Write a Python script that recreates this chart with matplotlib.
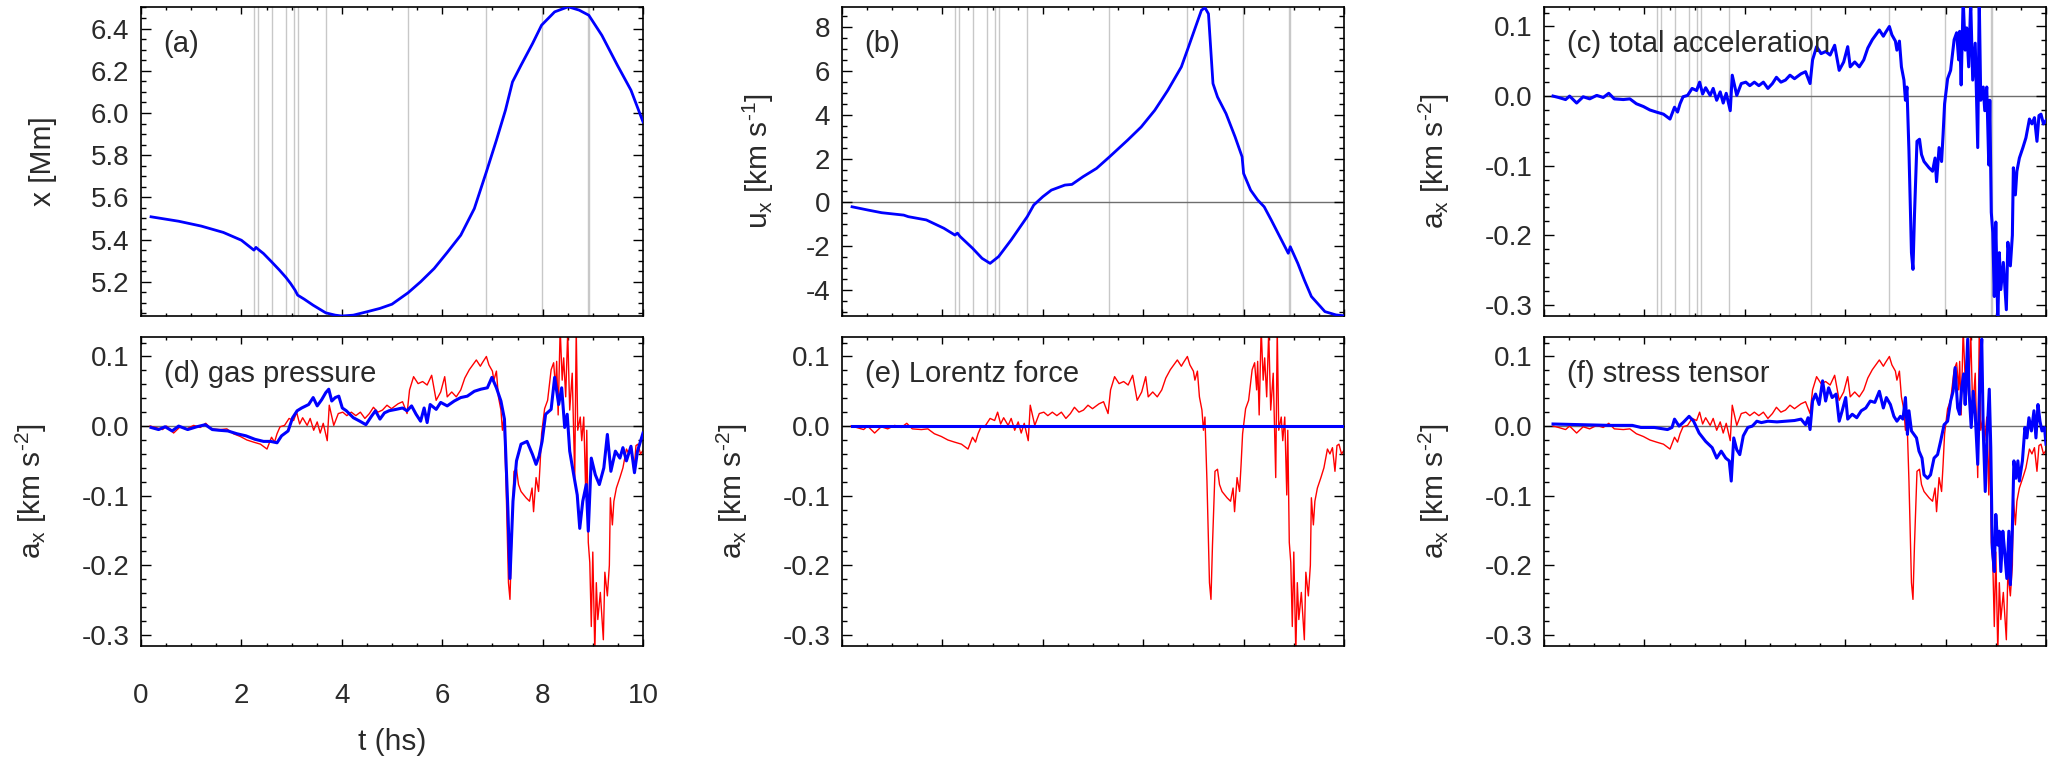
import matplotlib
matplotlib.use('Agg')
import matplotlib.pyplot as plt
from matplotlib.ticker import MultipleLocator, FormatStrFormatter

plt.rcParams['font.family'] = ['Liberation Sans', 'DejaVu Sans']
plt.rcParams['mathtext.default'] = 'regular'
plt.rcParams['axes.unicode_minus'] = False

# times of the grey marker lines (hs)
event_times = [2.25, 2.34, 2.60, 2.89, 3.04, 3.12, 3.69, 5.32, 6.88, 7.98, 8.90, 8.93]

# (a) position x [Mm]
pos_t = [0.2, 0.75, 1.2, 1.64, 2.0, 2.25, 2.29, 2.34, 2.44, 2.6, 2.76, 2.89, 2.98,
         3.07, 3.12, 3.25, 3.43, 3.68, 3.87, 4.0, 4.23, 4.5, 4.76, 5.0, 5.32, 5.57,
         5.84, 6.1, 6.37, 6.64, 6.88, 7.08, 7.26, 7.4, 7.57, 7.8, 7.98, 8.24, 8.51,
         8.73, 8.92, 9.18, 9.49, 9.76, 10.0]
pos_x = [5.508, 5.487, 5.464, 5.434, 5.397, 5.350, 5.363, 5.353, 5.334, 5.295, 5.255,
         5.220, 5.192, 5.160, 5.137, 5.118, 5.089, 5.053, 5.042, 5.038, 5.042, 5.058,
         5.074, 5.094, 5.148, 5.200, 5.263, 5.339, 5.421, 5.547, 5.721, 5.871, 6.013,
         6.147, 6.226, 6.329, 6.416, 6.479, 6.503, 6.487, 6.463, 6.368, 6.226, 6.108,
         5.958]

# (b) velocity u_x [km/s]
vel_t = [0.2, 0.52, 0.79, 1.23, 1.32, 1.68, 2.03, 2.25, 2.30, 2.35, 2.60, 2.79, 2.95,
         3.12, 3.37, 3.69, 3.82, 4.0, 4.17, 4.44, 4.58, 4.80, 5.07, 5.33, 5.69, 5.96,
         6.23, 6.49, 6.76, 6.89, 7.03, 7.16, 7.23, 7.30, 7.39, 7.48, 7.65, 7.83, 7.97,
         8.0, 8.14, 8.28, 8.41, 8.55, 8.72, 8.89, 8.93, 9.08, 9.21, 9.35, 9.62, 9.84, 10.0]
vel_u = [-0.20, -0.35, -0.47, -0.58, -0.65, -0.80, -1.18, -1.49, -1.40, -1.55, -2.09,
         -2.55, -2.78, -2.47, -1.71, -0.65, -0.12, 0.26, 0.56, 0.79, 0.82, 1.17, 1.55,
         2.08, 2.84, 3.44, 4.20, 5.11, 6.18, 7.01, 7.92, 8.76, 8.88, 8.60, 5.42, 4.81,
         4.05, 2.99, 2.08, 1.32, 0.56, 0.11, -0.20, -0.80, -1.56, -2.32, -2.02, -2.78,
         -3.54, -4.29, -4.98, -5.13, -5.17]

# total acceleration a_x [km s^-2]
tot_t = [0.18, 0.29, 0.43, 0.51, 0.65, 0.78, 0.91, 1.05, 1.18, 1.29, 1.40, 1.58, 1.71,
         1.84, 1.98, 2.11, 2.24, 2.38, 2.51, 2.60, 2.66, 2.71, 2.77, 2.86, 2.95, 3.04,
         3.10, 3.16, 3.22, 3.31, 3.37, 3.44, 3.51, 3.57, 3.63, 3.71, 3.75, 3.84, 3.93,
         4.02, 4.10, 4.19, 4.28, 4.37, 4.46, 4.55, 4.63, 4.72, 4.81, 4.90, 4.99, 5.12,
         5.21, 5.30, 5.35, 5.43, 5.52, 5.61, 5.70, 5.79, 5.88, 5.97, 6.05, 6.10, 6.19,
         6.28, 6.37, 6.45, 6.54, 6.68, 6.76, 6.80, 6.88, 6.93, 7.00, 7.03, 7.08, 7.12,
         7.17, 7.20, 7.23, 7.27, 7.32, 7.35, 7.38, 7.43, 7.48, 7.52, 7.57, 7.67, 7.74,
         7.79, 7.82, 7.87, 7.92, 7.95, 7.98, 8.04, 8.10, 8.17, 8.22, 8.26, 8.28, 8.31,
         8.35, 8.39, 8.42, 8.46, 8.50, 8.54, 8.59, 8.64, 8.67, 8.70, 8.75, 8.78, 8.82,
         8.86, 8.88, 8.91, 8.94, 8.97, 9.00, 9.04, 9.07, 9.10, 9.15, 9.21, 9.24, 9.29,
         9.33, 9.35, 9.39, 9.42, 9.47, 9.54, 9.60, 9.67, 9.72, 9.77, 9.82, 9.86, 9.90,
         9.95, 10.0]
tot_a = [0.000, -0.002, -0.005, 0.000, -0.010, -0.001, -0.004, 0.001, -0.002, 0.004,
         -0.004, -0.005, -0.004, -0.011, -0.015, -0.020, -0.023, -0.026, -0.033, -0.016,
         -0.023, -0.011, -0.001, 0.001, 0.011, 0.008, 0.020, 0.003, 0.012, 0.001, 0.011,
         -0.006, 0.006, -0.010, 0.004, -0.021, 0.030, 0.001, 0.018, 0.020, 0.015, 0.020,
         0.015, 0.020, 0.011, 0.018, 0.027, 0.020, 0.023, 0.030, 0.025, 0.032, 0.035,
         0.018, 0.052, 0.071, 0.061, 0.064, 0.059, 0.073, 0.037, 0.049, 0.071, 0.042,
         0.049, 0.042, 0.052, 0.069, 0.081, 0.095, 0.086, 0.091, 0.100, 0.088, 0.079,
         0.066, 0.079, 0.042, 0.023, -0.006, 0.013, -0.079, -0.225, -0.249, -0.171,
         -0.065, -0.062, -0.084, -0.094, -0.103, -0.108, -0.089, -0.123, -0.074, -0.094,
         -0.055, -0.011, 0.025, 0.037, 0.081, 0.091, 0.052, 0.093, 0.016, 0.140, 0.066,
         0.098, 0.042, 0.135, 0.023, 0.076, -0.074, 0.140, -0.006, 0.013, -0.021, 0.013,
         -0.099, -0.006, -0.167, -0.196, -0.288, -0.181, -0.325, -0.225, -0.278, -0.239,
         -0.307, -0.210, -0.244, -0.200, -0.103, -0.142, -0.108, -0.089, -0.074, -0.060,
         -0.033, -0.040, -0.031, -0.065, -0.028, -0.026, -0.040, -0.035]

# gas pressure contribution
gas_t = [0.20, 0.35, 0.48, 0.62, 0.75, 0.93, 1.11, 1.28, 1.42, 1.55, 1.73, 1.91, 2.09,
         2.27, 2.44, 2.58, 2.71, 2.80, 2.93, 3.02, 3.11, 3.20, 3.34, 3.43, 3.51, 3.60,
         3.68, 3.74, 3.80, 3.87, 3.94, 4.01, 4.09, 4.23, 4.36, 4.48, 4.59, 4.67, 4.76,
         4.85, 4.94, 5.08, 5.21, 5.30, 5.39, 5.48, 5.57, 5.64, 5.70, 5.76, 5.88, 5.97,
         6.10, 6.24, 6.37, 6.50, 6.64, 6.77, 6.90, 6.99, 7.08, 7.17, 7.24, 7.31, 7.35,
         7.41, 7.48, 7.57, 7.69, 7.80, 7.87, 7.93, 7.99, 8.06, 8.17, 8.24, 8.32, 8.38,
         8.44, 8.49, 8.54, 8.62, 8.69, 8.74, 8.80, 8.87, 8.91, 8.97, 9.05, 9.13, 9.22,
         9.29, 9.36, 9.45, 9.54, 9.60, 9.67, 9.76, 9.83, 9.89, 9.95, 10.0]
gas_a = [-0.002, -0.005, -0.001, -0.007, 0.000, -0.005, -0.001, 0.002, -0.005, -0.006,
         -0.007, -0.011, -0.014, -0.019, -0.022, -0.022, -0.024, -0.014, -0.007, 0.012,
         0.022, 0.026, 0.031, 0.041, 0.029, 0.038, 0.048, 0.053, 0.036, 0.041, 0.043,
         0.026, 0.022, 0.012, 0.007, 0.002, 0.014, 0.022, 0.010, 0.019, 0.022, 0.024,
         0.026, 0.022, 0.029, 0.017, 0.007, 0.026, 0.005, 0.031, 0.024, 0.034, 0.029,
         0.036, 0.041, 0.043, 0.050, 0.053, 0.055, 0.070, 0.055, 0.036, 0.010, -0.123,
         -0.219, -0.108, -0.050, -0.026, -0.022, -0.041, -0.055, -0.043, -0.022, 0.017,
         0.024, 0.070, 0.031, 0.055, -0.002, 0.017, -0.036, -0.070, -0.099, -0.147,
         -0.108, -0.084, -0.151, -0.046, -0.070, -0.084, -0.060, -0.012, -0.065, -0.036,
         -0.046, -0.031, -0.050, -0.029, -0.067, -0.036, -0.022, -0.010]

# Lorentz force contribution
lor_t = [0.2, 10.0]
lor_a = [0.0, 0.0]

# stress tensor contribution
str_t = [0.18, 0.78, 1.31, 1.76, 1.93, 2.20, 2.46, 2.55, 2.60, 2.69, 2.77, 2.89, 2.98,
         3.09, 3.22, 3.35, 3.44, 3.53, 3.62, 3.69, 3.73, 3.78, 3.84, 3.90, 3.97, 4.06,
         4.15, 4.24, 4.33, 4.46, 4.64, 4.81, 4.99, 5.12, 5.21, 5.26, 5.30, 5.35, 5.41,
         5.48, 5.55, 5.61, 5.67, 5.74, 5.82, 5.88, 5.94, 6.01, 6.05, 6.14, 6.23, 6.32,
         6.41, 6.50, 6.59, 6.68, 6.76, 6.82, 6.90, 6.97, 7.03, 7.10, 7.15, 7.20, 7.24,
         7.27, 7.32, 7.37, 7.42, 7.47, 7.53, 7.57, 7.64, 7.70, 7.77, 7.84, 7.90, 7.97,
         8.04, 8.10, 8.15, 8.19, 8.24, 8.28, 8.32, 8.36, 8.39, 8.44, 8.47, 8.51, 8.55,
         8.59, 8.64, 8.68, 8.72, 8.75, 8.79, 8.83, 8.87, 8.90, 8.93, 8.97, 9.00, 9.04,
         9.07, 9.10, 9.14, 9.17, 9.22, 9.26, 9.29, 9.33, 9.36, 9.40, 9.44, 9.47, 9.53,
         9.58, 9.62, 9.66, 9.71, 9.76, 9.80, 9.84, 9.88, 9.92, 9.97, 10.0]
str_a = [0.003, 0.002, 0.001, 0.001, -0.002, -0.002, -0.005, -0.002, 0.010, 0.000,
         0.005, 0.014, 0.007, -0.010, -0.022, -0.031, -0.046, -0.036, -0.046, -0.050,
         -0.079, -0.017, -0.034, -0.041, -0.014, -0.002, 0.000, 0.007, 0.005, 0.007,
         0.006, 0.007, 0.008, 0.010, 0.002, 0.012, -0.005, 0.036, 0.046, 0.031, 0.065,
         0.036, 0.055, 0.041, 0.046, 0.007, 0.022, 0.041, 0.010, 0.017, 0.012, 0.022,
         0.026, 0.036, 0.034, 0.050, 0.026, 0.041, 0.031, 0.014, 0.007, 0.014, 0.010,
         0.041, -0.012, 0.022, -0.007, -0.012, -0.017, -0.036, -0.046, -0.070, -0.075,
         -0.070, -0.046, -0.041, -0.022, 0.002, 0.007, 0.036, 0.050, 0.084, 0.026, 0.017,
         0.055, 0.075, 0.031, 0.125, 0.046, -0.002, 0.050, 0.017, -0.055, 0.060, 0.125,
         -0.007, -0.094, -0.007, 0.053, -0.031, -0.175, -0.209, -0.127, -0.171, -0.151,
         -0.209, -0.151, -0.175, -0.219, -0.151, -0.228, -0.147, -0.050, -0.075, -0.050,
         -0.079, -0.050, -0.002, -0.017, 0.012, -0.007, 0.022, -0.017, 0.031, 0.007,
         -0.007, -0.002, -0.026]

panel_text = ['(a)', '(b)', '(c) total acceleration',
              '(d) gas pressure', '(e) Lorentz force', '(f) stress tensor']

W, H = 2055, 758
fig = plt.figure(figsize=(W / 100, H / 100), dpi=100)

col_left = [141, 842, 1544]
row_top = [7, 337]
aw, ah = 502, 309

txt_col = '#2a2a2a'
hy = '\u2010'   # plain hyphen for the exponents, as in the original


def make_ax(col, row):
    l = col_left[col]
    top = row_top[row]
    ax = fig.add_axes([l / W, 1 - (top + ah) / H, aw / W, ah / H])
    ax.set_xlim(0, 10)
    ax.xaxis.set_major_locator(MultipleLocator(2))
    ax.xaxis.set_minor_locator(MultipleLocator(0.5))
    ax.tick_params(which='both', direction='in', top=True, right=True,
                   labelsize=20, labelcolor=txt_col, width=1.0)
    ax.tick_params(axis='y', which='major', length=7.2, pad=8.5)
    ax.tick_params(axis='y', which='minor', length=3.6)
    ax.tick_params(axis='x', which='major', length=5, pad=26.5)
    ax.tick_params(axis='x', which='minor', length=2.5)
    ax.tick_params(axis='x', labelbottom=False)
    for s in ax.spines.values():
        s.set_linewidth(1.2)
    return ax


def acc_axis(ax):
    ax.set_ylim(-0.316, 0.128)
    ax.yaxis.set_major_locator(MultipleLocator(0.1))
    ax.yaxis.set_minor_locator(MultipleLocator(0.02))
    ax.yaxis.set_major_formatter(FormatStrFormatter('%.1f'))
    ax.set_ylabel('a$_x$ [km s$^{' + hy + '2}$]', fontsize=21.5, color=txt_col)
    ax.yaxis.set_label_coords(-0.183, 0.5)
    ax.axhline(0, color='#6e6e6e', lw=1.0, zorder=1)


def add_events(ax):
    for te in event_times:
        ax.axvline(te, color='#c8c8c8', lw=1.0, zorder=0)


def panel_label(ax, s):
    ax.text(0.045, 0.925, s, transform=ax.transAxes, fontsize=21,
            color=txt_col, va='top', ha='left', zorder=5)


# (a)
ax = make_ax(0, 0)
add_events(ax)
ax.plot(pos_t, pos_x, color='#0000ff', lw=2.0, zorder=3)
ax.set_ylim(5.038, 6.502)
ax.yaxis.set_major_locator(MultipleLocator(0.2))
ax.yaxis.set_minor_locator(MultipleLocator(0.05))
ax.yaxis.set_major_formatter(FormatStrFormatter('%.1f'))
ax.set_ylabel('x [Mm]', fontsize=21.5, color=txt_col)
ax.yaxis.set_label_coords(-0.167, 0.5)
panel_label(ax, panel_text[0])

# (b)
ax = make_ax(1, 0)
add_events(ax)
ax.axhline(0, color='#6e6e6e', lw=1.0, zorder=1)
ax.plot(vel_t, vel_u, color='#0000ff', lw=2.0, zorder=3)
ax.set_ylim(-5.18, 8.91)
ax.yaxis.set_major_locator(MultipleLocator(2))
ax.yaxis.set_minor_locator(MultipleLocator(0.5))
ax.set_ylabel('u$_x$ [km s$^{' + hy + '1}$]', fontsize=21.5, color=txt_col)
ax.yaxis.set_label_coords(-0.131, 0.5)
panel_label(ax, panel_text[1])

# (c)
ax = make_ax(2, 0)
add_events(ax)
acc_axis(ax)
ax.plot(tot_t, tot_a, color='#0000ff', lw=2.2, zorder=3)
panel_label(ax, panel_text[2])

# (d), (e), (f)
parts = [(gas_t, gas_a), (lor_t, lor_a), (str_t, str_a)]
for i, (pt, pa) in enumerate(parts):
    ax = make_ax(i, 1)
    acc_axis(ax)
    ax.plot(tot_t, tot_a, color='#ff0000', lw=1.0, zorder=2)
    ax.plot(pt, pa, color='#0000ff', lw=2.2, zorder=3)
    panel_label(ax, panel_text[3 + i])
    if i == 0:
        ax.tick_params(axis='x', labelbottom=True)
        ax.set_xlabel('t (hs)', fontsize=21.5, color=txt_col)
        ax.xaxis.set_label_coords(0.5, -0.265)

fig.savefig('out.png', dpi=100)
